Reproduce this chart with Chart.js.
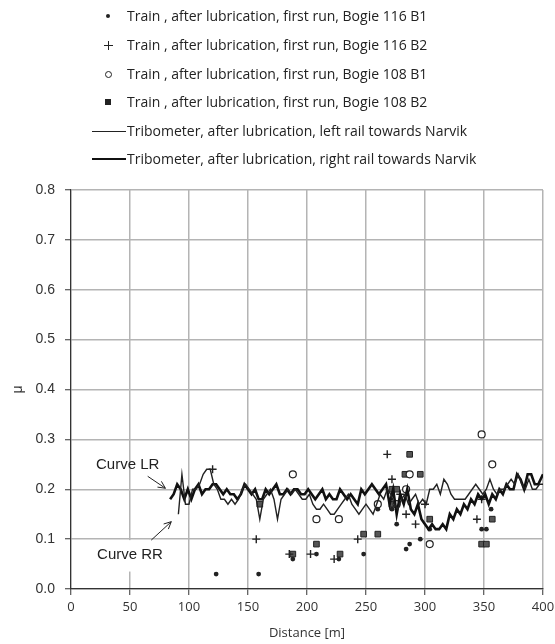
<!DOCTYPE html>
<html>
<head>
<meta charset="utf-8">
<script src="https://cdn.jsdelivr.net/npm/chart.js@4.4.0/dist/chart.umd.min.js"></script>
<style>
  body { margin: 0; background: #fff; }
  #wrap { position: relative; width: 555px; height: 644px; }
  #legend { position: absolute; left: 0; top: 0; width: 555px; font-family: "Open Sans", sans-serif; font-size: 14px; color: #222; }
  .row { position: absolute; left: 127px; height: 20px; line-height: 20px; white-space: nowrap; }
  .sym { position: absolute; }
</style>
</head>
<body>
<div id="wrap">
  <canvas id="chart" width="555" height="644"></canvas>
  <div id="legend"></div>
</div>
<script>
// legend text
var legendLabels = [
    'Train , after lubrication, first run, Bogie 116 B1',
    'Train , after lubrication, first run, Bogie 116 B2',
    'Train , after lubrication, first run, Bogie 108 B1',
    'Train , after lubrication, first run, Bogie 108 B2',
    'Tribometer, after lubrication, left rail towards Narvik',
    'Tribometer, after lubrication, right rail towards Narvik'
];

// train measurements (distance m, mu)
var b116b1X = [123, 159, 188, 208, 227, 248, 260, 272, 276, 284, 287, 296, 304, 348, 352, 356];
var b116b1Y = [0.03, 0.03, 0.06, 0.07, 0.06, 0.07, 0.16, 0.16, 0.13, 0.08, 0.09, 0.10, 0.12, 0.12, 0.12, 0.16];

var b116b2X = [120, 157, 185, 203, 223, 243, 268, 272, 279, 284, 292, 300, 344, 348];
var b116b2Y = [0.24, 0.10, 0.07, 0.07, 0.06, 0.10, 0.27, 0.22, 0.19, 0.15, 0.13, 0.17, 0.14, 0.18];

var b108b1X = [188, 208, 227, 260, 276, 284, 287, 304, 348, 357];
var b108b1Y = [0.23, 0.14, 0.14, 0.17, 0.17, 0.20, 0.23, 0.09, 0.31, 0.25];

var b108b2X = [160, 188, 208, 228, 248, 260, 272, 272, 276, 283, 287, 296, 304, 348, 352, 357];
var b108b2Y = [0.17, 0.07, 0.09, 0.07, 0.11, 0.11, 0.20, 0.17, 0.20, 0.23, 0.27, 0.23, 0.14, 0.09, 0.09, 0.14];

// tribometer, left rail (thin)
var lrX = [91, 94, 97, 100, 103, 106, 109, 112, 115, 118, 121, 124, 127, 130, 133, 136, 139, 142, 145, 148,
    151, 154, 157, 160, 163, 166, 169, 172, 175, 178, 181, 184, 187, 190, 193, 196, 199, 202, 205, 208,
    211, 214, 217, 220, 223, 226, 229, 232, 235, 238, 241, 244, 247, 250, 253, 256, 259, 262, 265, 268,
    271, 274, 277, 280, 283, 286, 289, 292, 295, 298, 301, 304, 307, 310, 313, 316, 319, 322, 325, 328,
    331, 334, 337, 340, 343, 346, 349, 352, 355, 358, 361, 364, 367, 370, 373, 376, 379, 382, 385, 388,
    391, 394, 397, 400];
var lrY = [0.15, 0.23, 0.17, 0.17, 0.20, 0.20, 0.21, 0.23, 0.24, 0.24, 0.21, 0.20, 0.18, 0.18, 0.17, 0.18, 0.17, 0.18, 0.20, 0.21,
    0.20, 0.19, 0.18, 0.14, 0.18, 0.19, 0.20, 0.18, 0.14, 0.18, 0.19, 0.20, 0.19, 0.20, 0.19, 0.18, 0.18, 0.19, 0.17, 0.16,
    0.16, 0.17, 0.16, 0.15, 0.15, 0.16, 0.17, 0.18, 0.19, 0.17, 0.16, 0.15, 0.16, 0.17, 0.16, 0.15, 0.17, 0.19, 0.18, 0.20,
    0.19, 0.17, 0.16, 0.18, 0.19, 0.17, 0.18, 0.19, 0.17, 0.18, 0.17, 0.20, 0.20, 0.21, 0.19, 0.22, 0.21, 0.19, 0.18, 0.18,
    0.18, 0.18, 0.19, 0.20, 0.21, 0.20, 0.19, 0.20, 0.22, 0.20, 0.19, 0.20, 0.20, 0.21, 0.22, 0.21, 0.23, 0.21, 0.20, 0.22,
    0.20, 0.20, 0.21, 0.21];

// tribometer, right rail (thick)
var rrX = [84, 87, 90, 93, 96, 99, 102, 105, 108, 111, 114, 117, 120, 123, 126, 129, 132, 135, 138, 141,
    144, 147, 150, 153, 156, 159, 162, 165, 168, 171, 174, 177, 180, 183, 186, 189, 192, 195, 198, 201,
    204, 207, 210, 213, 216, 219, 222, 225, 228, 231, 234, 237, 240, 243, 246, 249, 252, 255, 258, 261,
    264, 267, 270, 273, 276, 279, 282, 285, 288, 291, 294, 297, 300, 303, 306, 309, 312, 315, 318, 321,
    324, 327, 330, 333, 336, 339, 342, 345, 348, 351, 354, 357, 360, 363, 366, 369, 372, 375, 378, 381,
    384, 387, 390, 393, 396, 400];
var rrY = [0.18, 0.19, 0.21, 0.20, 0.18, 0.20, 0.18, 0.20, 0.21, 0.19, 0.20, 0.20, 0.21, 0.21, 0.20, 0.19, 0.20, 0.19, 0.19, 0.18,
    0.19, 0.21, 0.20, 0.19, 0.20, 0.18, 0.18, 0.20, 0.19, 0.20, 0.21, 0.19, 0.19, 0.20, 0.19, 0.20, 0.20, 0.19, 0.19, 0.20,
    0.19, 0.18, 0.19, 0.20, 0.18, 0.19, 0.18, 0.18, 0.20, 0.19, 0.18, 0.19, 0.18, 0.17, 0.20, 0.19, 0.20, 0.21, 0.20, 0.19,
    0.20, 0.21, 0.17, 0.20, 0.15, 0.19, 0.17, 0.20, 0.16, 0.15, 0.17, 0.14, 0.13, 0.12, 0.13, 0.12, 0.12, 0.13, 0.12, 0.15,
    0.14, 0.16, 0.15, 0.17, 0.16, 0.18, 0.17, 0.19, 0.18, 0.19, 0.17, 0.19, 0.18, 0.20, 0.19, 0.21, 0.20, 0.20, 0.23, 0.22,
    0.20, 0.23, 0.23, 0.21, 0.21, 0.23];

function pts(xs, ys) {
    var out = [];
    for (var i = 0; i < xs.length; i++) out.push({ x: xs[i], y: ys[i] });
    return out;
}

// html legend, one entry per row
var legendTops = [6, 35, 64, 92, 121, 149];
var legendHtml = '';
legendLabels.forEach(function (txt, i) {
    legendHtml += '<div class="row" style="top:' + legendTops[i] + 'px">' + txt + '</div>';
});
var y0 = legendTops.map(function (t) { return t + 10; });
legendHtml += '<div class="sym" style="left:106px;top:' + (y0[0] - 2) + 'px;width:4px;height:4px;border-radius:2px;background:#222"></div>';
legendHtml += '<div class="sym" style="left:104px;top:' + (y0[1] - 0.5) + 'px;width:9px;height:1.3px;background:#222"></div>';
legendHtml += '<div class="sym" style="left:107.8px;top:' + (y0[1] - 4.5) + 'px;width:1.3px;height:9px;background:#222"></div>';
legendHtml += '<div class="sym" style="left:105px;top:' + (y0[2] - 3) + 'px;width:5px;height:5px;border-radius:4px;border:1px solid #222"></div>';
legendHtml += '<div class="sym" style="left:105px;top:' + (y0[3] - 3) + 'px;width:6px;height:6px;background:#222"></div>';
legendHtml += '<div class="sym" style="left:92px;top:' + (y0[4] - 0.5) + 'px;width:34px;height:1.2px;background:#222"></div>';
legendHtml += '<div class="sym" style="left:92px;top:' + (y0[5] - 1.2) + 'px;width:34px;height:2.6px;background:#111"></div>';
document.getElementById('legend').innerHTML = legendHtml;

// "Curve LR" / "Curve RR" notes with arrows
var curveNotes = {
    id: 'curveNotes',
    afterDatasetsDraw: function (chart) {
        var ctx = chart.ctx;
        var xs = chart.scales.x, ys = chart.scales.y;
        ctx.save();
        // white patch behind the lower note
        ctx.fillStyle = '#fff';
        ctx.fillRect(xs.getPixelForValue(8), ys.getPixelForValue(0.098), xs.getPixelForValue(92) - xs.getPixelForValue(8), ys.getPixelForValue(0.035) - ys.getPixelForValue(0.098));
        ctx.fillStyle = '#222';
        ctx.font = '15px "Liberation Sans", Arial, sans-serif';
        ctx.textAlign = 'center';
        ctx.textBaseline = 'middle';
        ctx.fillText('Curve LR', xs.getPixelForValue(48), ys.getPixelForValue(0.248));
        ctx.fillText('Curve RR', xs.getPixelForValue(50), ys.getPixelForValue(0.068));
        function arrow(xa, ya, xb, yb) {
            var x1 = xs.getPixelForValue(xa), y1 = ys.getPixelForValue(ya);
            var x2 = xs.getPixelForValue(xb), y2 = ys.getPixelForValue(yb);
            var a = Math.atan2(y2 - y1, x2 - x1);
            ctx.strokeStyle = '#222';
            ctx.lineWidth = 1;
            ctx.beginPath();
            ctx.moveTo(x1, y1);
            ctx.lineTo(x2, y2);
            ctx.moveTo(x2 - 8 * Math.cos(a - 0.45), y2 - 8 * Math.sin(a - 0.45));
            ctx.lineTo(x2, y2);
            ctx.lineTo(x2 - 8 * Math.cos(a + 0.45), y2 - 8 * Math.sin(a + 0.45));
            ctx.stroke();
        }
        arrow(65, 0.226, 80, 0.202);
        arrow(68, 0.098, 85, 0.135);
        ctx.restore();
    }
};

var config = {
    type: 'scatter',
    data: {
        datasets: [
            {
                label: 'left rail',
                data: pts(lrX, lrY),
                showLine: true,
                borderColor: '#222',
                borderWidth: 1.4,
                pointRadius: 0,
                tension: 0
            },
            {
                label: 'right rail',
                data: pts(rrX, rrY),
                showLine: true,
                borderColor: '#111',
                borderWidth: 2.6,
                pointRadius: 0,
                tension: 0
            },
            {
                label: '116 B1',
                data: pts(b116b1X, b116b1Y),
                pointStyle: 'circle',
                pointRadius: 2.4,
                backgroundColor: '#222',
                borderColor: '#222',
                borderWidth: 0
            },
            {
                label: '116 B2',
                data: pts(b116b2X, b116b2Y),
                pointStyle: 'cross',
                pointRadius: 4,
                borderColor: '#222',
                borderWidth: 1.4
            },
            {
                label: '108 B1',
                data: pts(b108b1X, b108b1Y),
                pointStyle: 'circle',
                pointRadius: 3.5,
                backgroundColor: '#fff',
                borderColor: '#222',
                borderWidth: 1.2
            },
            {
                label: '108 B2',
                data: pts(b108b2X, b108b2Y),
                pointStyle: 'rect',
                pointRadius: 4,
                backgroundColor: '#555',
                borderColor: '#222',
                borderWidth: 1
            }
        ]
    },
    options: {
        responsive: false,
        animation: false,
        events: [],
        layout: { padding: { top: 190, right: 12, left: 0, bottom: 0 } },
        plugins: {
            legend: { display: false },
            tooltip: { enabled: false }
        },
        scales: {
            x: {
                type: 'linear',
                min: 0,
                max: 400,
                ticks: {
                    stepSize: 50,
                    padding: 4,
                    color: '#333',
                    font: { family: '"Open Sans", sans-serif', size: 13 }
                },
                grid: { color: '#b4b4b4', lineWidth: 1.5, tickLength: 6, tickColor: '#333', tickWidth: 1 },
                border: { color: '#333', width: 1.2 },
                title: {
                    display: true,
                    text: 'Distance [m]',
                    color: '#333',
                    padding: { top: 2, bottom: 3 },
                    font: { family: '"Open Sans", sans-serif', size: 13 }
                },
                afterFit: function (scale) {
                    scale.height = 55;
                    scale.paddingRight = 0;
                    scale.paddingLeft = 0;
                }
            },
            y: {
                min: 0,
                max: 0.8,
                ticks: {
                    stepSize: 0.1,
                    padding: 10,
                    color: '#333',
                    font: { family: '"Liberation Sans", Arial, sans-serif', size: 14 },
                    callback: function (v) { return v.toFixed(1); }
                },
                grid: { color: '#b4b4b4', lineWidth: 1.5, tickLength: 6, tickColor: '#333', tickWidth: 1 },
                border: { color: '#333', width: 1.2 },
                title: {
                    display: true,
                    text: 'μ',
                    color: '#333',
                    padding: { top: 10, bottom: 0 },
                    font: { family: '"Liberation Sans", Arial, sans-serif', size: 14 }
                },
                afterFit: function (scale) { scale.width = 71; }
            }
        }
    },
    plugins: [curveNotes]
};

new Chart(document.getElementById('chart').getContext('2d'), config);
</script>
</body>
</html>
